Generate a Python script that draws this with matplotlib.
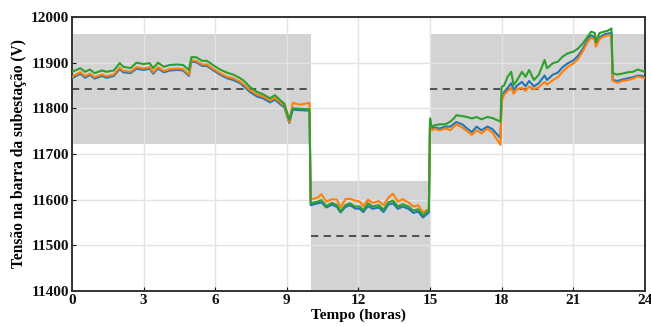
import matplotlib
matplotlib.use("Agg")
import matplotlib.pyplot as plt

plt.rcParams["font.family"] = ["Liberation Serif", "DejaVu Serif"]
plt.rcParams["font.weight"] = "bold"

# tempo (horas)
hours = [0, 0.35, 0.55, 0.75, 0.95, 1.25, 1.45, 1.75, 2.0, 2.15, 2.45, 2.7, 3.0, 3.25, 3.4, 3.6,
         3.85, 4.1, 4.4, 4.65, 4.9, 5.0, 5.2, 5.45, 5.65, 5.9, 6.2, 6.5, 6.75, 7.05, 7.25, 7.45,
         7.75, 8.0, 8.3, 8.5, 8.7, 8.9, 9.1, 9.25, 9.55, 9.95,
         10.0, 10.3, 10.45, 10.65, 10.9, 11.1, 11.25, 11.45, 11.65, 11.85, 12.05, 12.2, 12.4,
         12.6, 12.85, 13.05, 13.25, 13.45, 13.65, 13.85, 14.1, 14.3, 14.5, 14.7, 14.95,
         15.0, 15.05, 15.2, 15.4, 15.65, 15.85, 16.0, 16.1, 16.35, 16.55, 16.75, 16.95, 17.15,
         17.4, 17.6, 17.95, 18.0, 18.1, 18.25, 18.4, 18.5, 18.65, 18.85, 19.0, 19.15, 19.35,
         19.55, 19.8, 19.9, 20.15, 20.35, 20.55, 20.75, 21.0, 21.2, 21.4, 21.6, 21.75, 21.9,
         21.95, 22.1, 22.3, 22.45, 22.6, 22.65, 22.85, 23.05, 23.3, 23.5, 23.7, 24.0]

v_blue = [11866, 11876, 11867, 11873, 11865, 11871, 11867, 11871, 11886, 11879, 11877, 11887,
          11884, 11887, 11876, 11887, 11879, 11883, 11884, 11883, 11871, 11902, 11901, 11893,
          11893, 11884, 11874, 11866, 11862, 11855, 11846, 11836, 11826, 11822, 11813, 11819,
          11810, 11802, 11768, 11797, 11796, 11795,
          11588, 11592, 11594, 11583, 11589, 11584, 11572, 11584, 11588, 11581, 11580, 11573,
          11586, 11580, 11583, 11573, 11589, 11592, 11580, 11585, 11580, 11571, 11574, 11561, 11572,
          11776, 11757, 11758, 11756, 11760, 11760, 11766, 11770, 11765, 11756, 11748, 11760,
          11752, 11760, 11755, 11735, 11820, 11835, 11845, 11855, 11840, 11850, 11858, 11848,
          11860, 11848, 11855, 11872, 11862, 11874, 11878, 11890, 11898, 11905, 11915, 11930,
          11950, 11960, 11955, 11938, 11955, 11962, 11964, 11965, 11862, 11860, 11863, 11866,
          11868, 11872, 11870]

v_orange = [11869, 11879, 11870, 11876, 11868, 11874, 11870, 11874, 11889, 11882, 11880, 11890,
            11887, 11890, 11879, 11890, 11882, 11886, 11887, 11886, 11874, 11905, 11904, 11896,
            11896, 11887, 11877, 11869, 11866, 11858, 11850, 11840, 11830, 11826, 11817, 11823,
            11814, 11806, 11770, 11812, 11808, 11812,
            11600, 11605, 11612, 11596, 11601, 11600, 11583, 11601, 11602, 11598, 11596, 11586,
            11600, 11593, 11597, 11588, 11604, 11613, 11596, 11601, 11594, 11585, 11588, 11572, 11580,
            11775, 11752, 11755, 11752, 11756, 11752, 11760, 11765, 11758, 11750, 11742, 11752,
            11745, 11755, 11748, 11720, 11815, 11830, 11838, 11845, 11832, 11842, 11845, 11838,
            11848, 11842, 11846, 11858, 11852, 11862, 11868, 11880, 11890, 11898, 11908, 11925,
            11945, 11955, 11950, 11935, 11952, 11958, 11960, 11960, 11860, 11856, 11860, 11862,
            11865, 11870, 11866]

v_green = [11880, 11888, 11880, 11885, 11877, 11883, 11880, 11883, 11899, 11891, 11888, 11900,
           11897, 11899, 11888, 11900, 11891, 11895, 11896, 11895, 11884, 11912, 11912, 11904,
           11904, 11895, 11885, 11878, 11874, 11866, 11858, 11847, 11836, 11831, 11822, 11829,
           11819, 11810, 11775, 11800, 11799, 11798,
           11592, 11596, 11599, 11586, 11593, 11588, 11574, 11588, 11592, 11585, 11585, 11577,
           11592, 11585, 11588, 11578, 11594, 11598, 11585, 11590, 11585, 11576, 11579, 11566, 11577,
           11778, 11760, 11763, 11765, 11765, 11771, 11778, 11785, 11783, 11781, 11778, 11781,
           11776, 11781, 11779, 11771, 11847, 11850, 11869, 11880, 11851, 11862, 11880, 11869,
           11884, 11862, 11873, 11906, 11888, 11899, 11902, 11913, 11920, 11924, 11931, 11942,
           11957, 11968, 11965, 11945, 11965, 11968, 11970, 11975, 11877, 11874, 11876, 11879,
           11880, 11885, 11880]

# faixas de referência: inicio, fim, nominal, banda
band_start = [0, 10, 15]
band_end = [10, 15, 24]
band_ref = [11842, 11520, 11842]
band_half = [120, 120, 120]

fig = plt.figure(figsize=(6.51, 3.27), dpi=100)
ax = fig.add_axes([0.1106, 0.110, 0.880, 0.838])

ax.grid(True, color="#e3e3e3", linewidth=1.0, zorder=0)
for s, e, r, h in zip(band_start, band_end, band_ref, band_half):
    ax.fill_between([s, e], r - h, r + h, color="#d3d3d3", linewidth=0, zorder=1)
    ax.plot([s, e], [r, r], color="#444444", linestyle=(0, (4, 3)), linewidth=1.3, zorder=2)

ax.plot(hours, v_blue, color="#1f77b4", linewidth=1.5, zorder=3)
ax.plot(hours, v_orange, color="#ff7f0e", linewidth=1.5, zorder=4)
ax.plot(hours, v_green, color="#2ca02c", linewidth=1.5, zorder=5)

ax.set_xlim(0, 24)
ax.set_ylim(11400, 12000)
ax.set_xticks(range(0, 25, 3))
ax.set_yticks(range(11400, 12001, 100))
ax.tick_params(direction="in", length=3, labelsize=11, colors="#111111", pad=2)
for sp in ax.spines.values():
    sp.set_color("#333333")
    sp.set_linewidth(1.4)
for lab in ax.get_xticklabels() + ax.get_yticklabels():
    lab.set_fontweight("bold")

ax.set_xlabel("Tempo (horas)", fontsize=11, fontweight="bold", labelpad=1)
ax.set_ylabel("Tensão na barra da subestação (V)", fontsize=11.2, fontweight="bold", labelpad=3)

fig.savefig("out.png", dpi=100)
